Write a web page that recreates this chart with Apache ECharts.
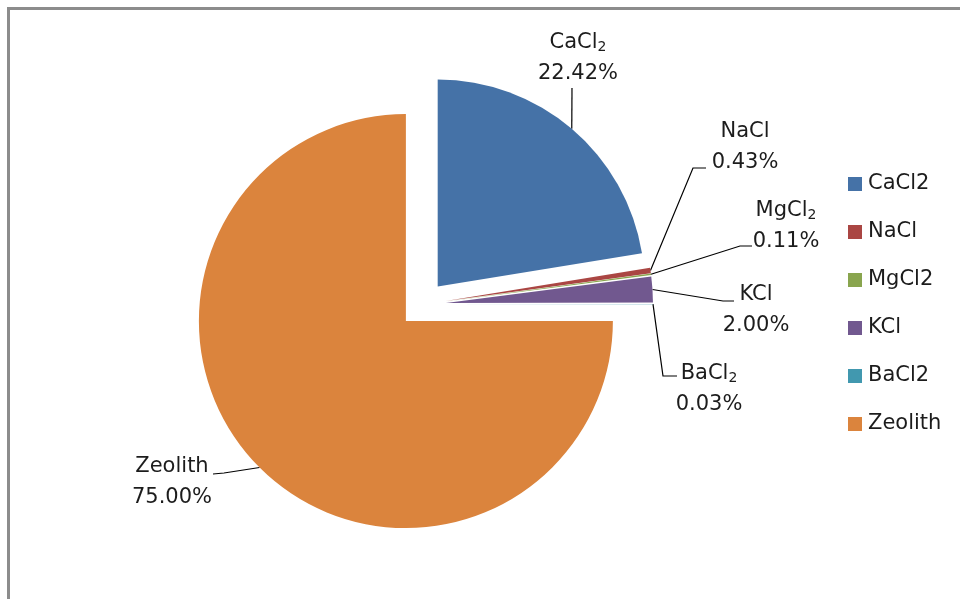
<!DOCTYPE html>
<html>
<head>
<meta charset="utf-8">
<script src="https://cdn.jsdelivr.net/npm/echarts@6/dist/echarts.min.js"></script>
<style>
  html, body { margin: 0; padding: 0; background: #fff; }
  #chart { width: 960px; height: 599px; }
</style>
</head>
<body>
<div id="chart"></div>
<script>
// Composition of the salt-loaded zeolite (percent by mass)
const categories = ['CaCl2', 'NaCl', 'MgCl2', 'KCl', 'BaCl2', 'Zeolith'];
const values = [22.42, 0.43, 0.11, 2.00, 0.03, 75.00];
const colors = ['#4572A7', '#AA4643', '#89A54E', '#71588F', '#4198AF', '#DB843D'];

// Where each label block sits and where its leader line bends (x, y)
const labelPlaces = {
  CaCl2:   { at: [578, 58],  bend: [[572, 88], [572, 88]] },
  NaCl:    { at: [745, 147], bend: [[693, 168], [706, 168]] },
  MgCl2:   { at: [786, 226], bend: [[740, 246], [752, 246]] },
  KCl:     { at: [756, 310], bend: [[723, 301], [734, 301]] },
  BaCl2:   { at: [709, 389], bend: [[663, 376], [677, 376]] },
  Zeolith: { at: [172, 482], bend: [[224, 473], [213, 474]] }
};

const FONT = 'DejaVu Sans';
const TEXT_COLOR = '#1c1c1c';
const PIE_CENTER = [422.5, 304.5];
const PIE_RADIUS = 207;
const EXPLODE = 23.5;

const chart = echarts.init(document.getElementById('chart'), null, { renderer: 'canvas' });

const pieData = categories.map((name, i) => ({ name, value: values[i] }));

chart.setOption({
  backgroundColor: '#ffffff',
  animation: false,
  color: colors,
  graphic: [{
    type: 'rect',
    silent: true,
    shape: { x: 8.5, y: 8.5, width: 1200, height: 1200 },
    style: { fill: 'none', stroke: '#8c8c8c', lineWidth: 3 }
  }],
  legend: {
    orient: 'vertical',
    left: 843,
    top: 167,
    data: categories,
    icon: 'rect',
    itemWidth: 14,
    itemHeight: 14,
    itemGap: 24,
    textStyle: { fontFamily: FONT, fontSize: 21, color: TEXT_COLOR, lineHeight: 24, padding: [0, 0, 0, 1] },
    selectedMode: false
  },
  series: [
    // exploded slices: every slice pulled out from the centre
    {
      type: 'pie',
      center: PIE_CENTER,
      radius: PIE_RADIUS,
      startAngle: 90,
      clockwise: true,
      selectedMode: 'multiple',
      selectedOffset: EXPLODE,
      emphasis: { disabled: true },
      select: { itemStyle: {} },
      label: { show: false },
      labelLine: { show: false },
      data: pieData.map(d => Object.assign({ selected: true }, d))
    },
    // data labels with leader lines, laid over the exploded slices
    {
      type: 'pie',
      silent: true,
      legendHoverLink: false,
      center: PIE_CENTER,
      radius: PIE_RADIUS,
      startAngle: 90,
      clockwise: true,
      avoidLabelOverlap: false,
      emphasis: { disabled: true },
      itemStyle: { color: 'rgba(0,0,0,0)' },
      data: pieData,
      label: {
        show: true,
        position: 'outside',
        fontFamily: FONT,
        fontSize: 21,
        color: TEXT_COLOR,
        lineHeight: 31,
        align: 'center',
        formatter: p => p.name.replace(/2$/, '{sub|2}') + '\n' + p.value.toFixed(2) + '%',
        rich: {
          sub: { fontFamily: FONT, fontSize: 14, color: TEXT_COLOR, padding: [9, 0, 0, 0], lineHeight: 31 }
        }
      },
      labelLine: {
        show: true,
        length: 10,
        length2: 10,
        lineStyle: { color: '#000000', width: 1.2 }
      },
      labelLayout: function (params) {
        const place = labelPlaces[categories[params.dataIndex]];
        const p0 = params.labelLinePoints[0];
        // push the start of the leader out to the exploded slice edge
        const dx = p0[0] - PIE_CENTER[0];
        const dy = p0[1] - PIE_CENTER[1];
        const len = Math.sqrt(dx * dx + dy * dy) || 1;
        const start = [p0[0] + dx / len * EXPLODE, p0[1] + dy / len * EXPLODE];
        return {
          x: place.at[0],
          y: place.at[1],
          align: 'center',
          verticalAlign: 'middle',
          labelLinePoints: [start, place.bend[0], place.bend[1]]
        };
      }
    }
  ]
});
</script>
</body>
</html>
